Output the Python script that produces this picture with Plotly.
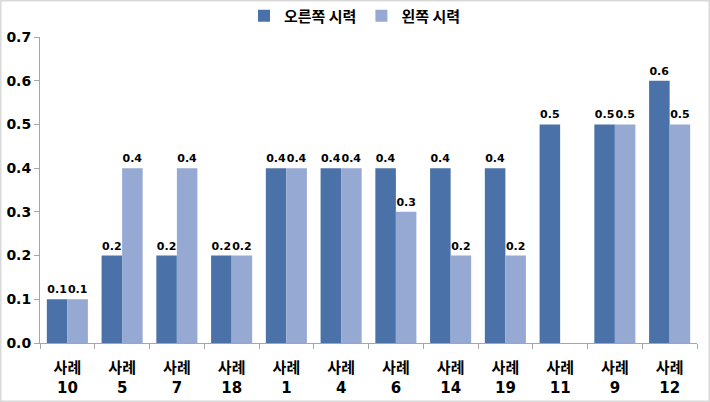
import plotly.graph_objects as go

categories = ["사례<br>10", "사례<br>5", "사례<br>7", "사례<br>18", "사례<br>1", "사례<br>4",
              "사례<br>6", "사례<br>14", "사례<br>19", "사례<br>11", "사례<br>9", "사례<br>12"]
right_eye = [0.1, 0.2, 0.2, 0.2, 0.4, 0.4, 0.4, 0.4, 0.4, 0.5, 0.5, 0.6]
left_eye = [0.1, 0.4, 0.4, 0.2, 0.4, 0.4, 0.3, 0.2, 0.2, None, 0.5, 0.5]
y_ticks = [0.0, 0.1, 0.2, 0.3, 0.4, 0.5, 0.6, 0.7]

FONT = "DejaVu Sans, Noto Sans CJK KR"
label_font = dict(family=FONT, size=11, color="#000000", weight="bold")

fig = go.Figure()
fig.add_trace(go.Bar(
    x=categories, y=right_eye, name="오른쪽 시력",
    marker=dict(color="#4a72a8", line=dict(width=0)),
    texttemplate="%{y:.1f}", textposition="outside", constraintext="none",
    textfont=label_font, cliponaxis=False,
))
fig.add_trace(go.Bar(
    x=categories, y=left_eye, name="왼쪽 시력",
    marker=dict(color="#95a9d3", line=dict(width=0)),
    texttemplate="%{y:.1f}", textposition="outside", constraintext="none",
    textfont=label_font, cliponaxis=False,
))

fig.update_layout(
    width=710, height=402,
    margin=dict(l=40, r=13, t=37, b=59, autoexpand=False),
    paper_bgcolor="white", plot_bgcolor="white",
    barmode="group", bargap=0.25, bargroupgap=0,
    font=dict(family=FONT, size=13, color="#000000"),
    legend=dict(orientation="h", x=0.5, xanchor="center", xref="container",
                y=1 - 16/402, yanchor="middle", yref="container",
                bgcolor="rgba(0,0,0,0)",
                font=dict(family="Noto Sans CJK KR", size=15, color="#000000", weight="bold"),
                itemwidth=30, traceorder="normal"),
    showlegend=True,
)

fig.update_xaxes(
    type="category", showline=True, linecolor="#a6a6a6", linewidth=1,
    ticks="outside", tickcolor="#a6a6a6", ticklen=5, tickson="boundaries",
    tickfont=dict(family=FONT, size=15, color="#000000", weight="bold"),
    ticklabelstandoff=11,
    showgrid=False,
)
fig.update_yaxes(
    range=[0, 0.7], tickvals=y_ticks, tickformat=".1f",
    showline=True, linecolor="#a6a6a6", linewidth=1,
    ticks="outside", tickcolor="#a6a6a6", ticklen=5,
    tickfont=dict(family=FONT, size=14, color="#000000", weight="bold"),
    showgrid=False, zeroline=False,
)

fig.add_shape(type="rect", xref="paper", yref="paper",
              x0=-40/657, x1=1+13/657, y0=-59/306, y1=1+37/306,
              line=dict(color="#d9d9d9", width=3), layer="below")

fig.write_html("out.html")
